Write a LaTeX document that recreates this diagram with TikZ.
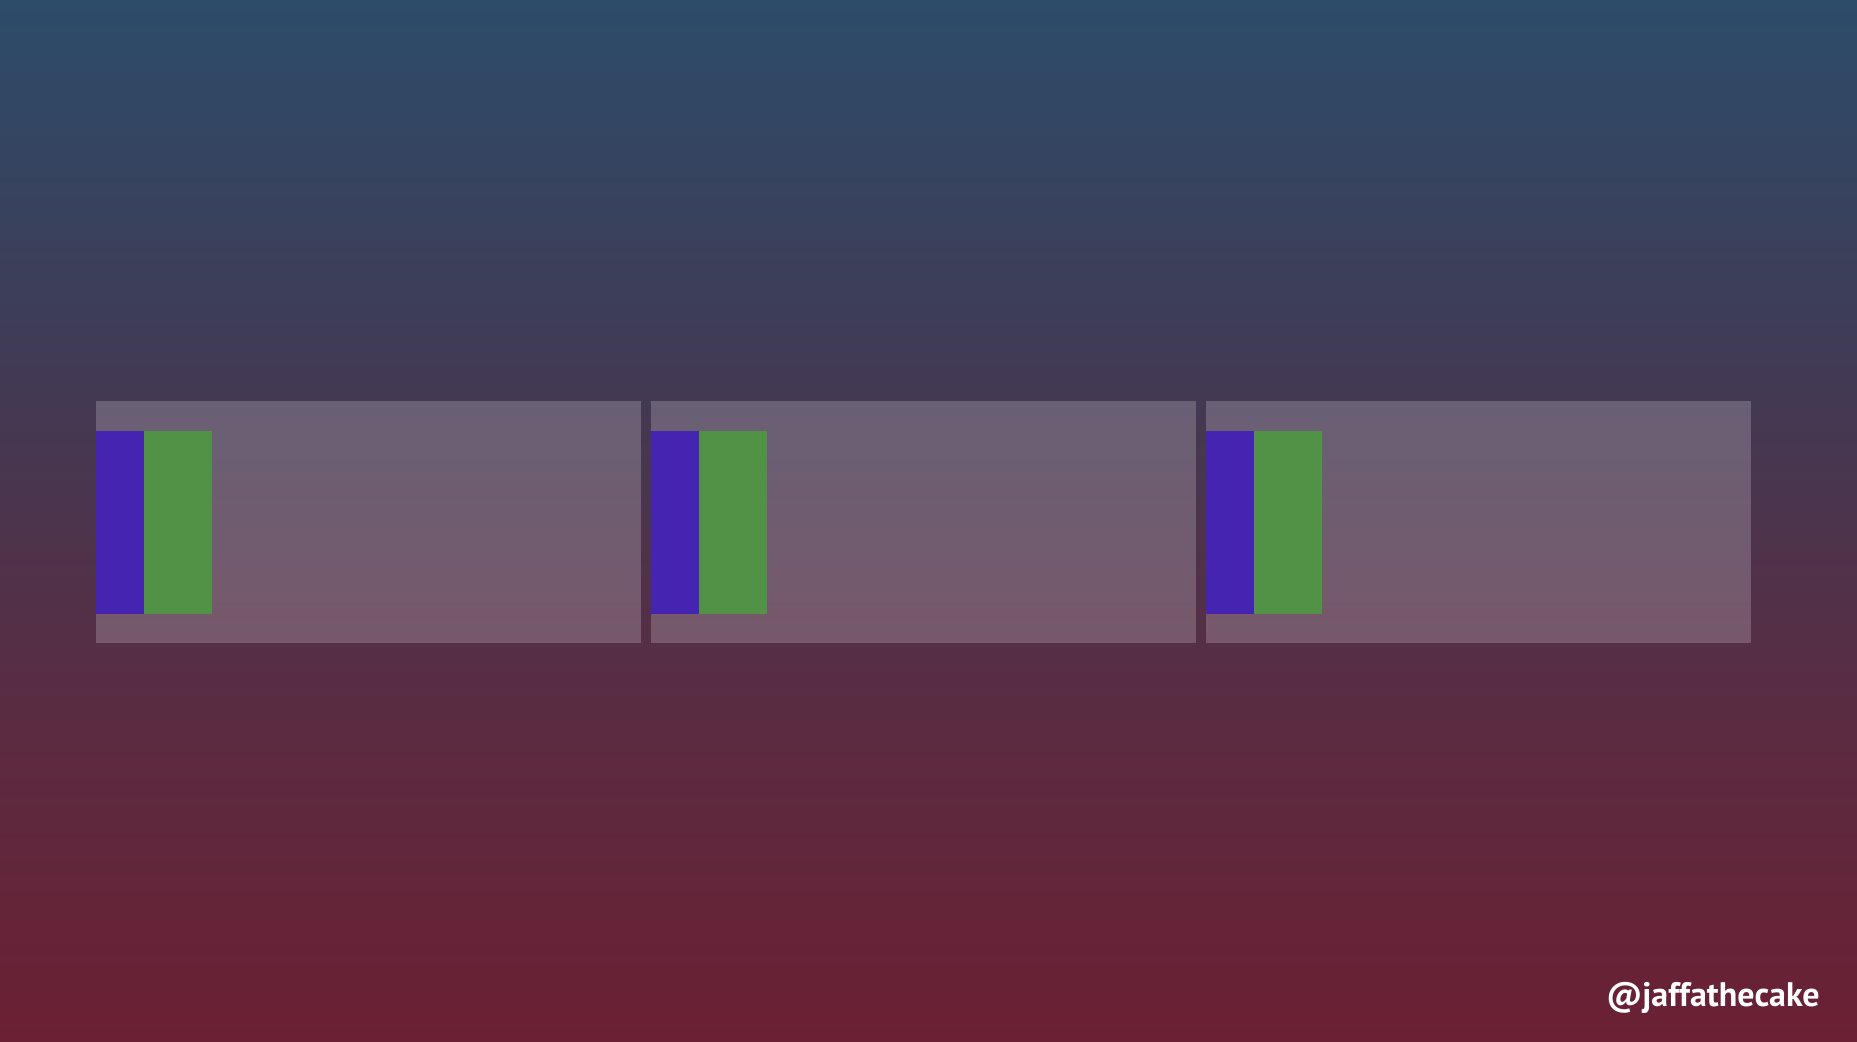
\documentclass[tikz,border=0pt]{standalone}
\usepackage{fontspec}
\setmainfont{PT Sans}
\usetikzlibrary{positioning,calc}
\definecolor{bgA}{HTML}{2c4c6a}
\definecolor{bgB}{HTML}{433953}
\definecolor{bgC}{HTML}{5a2c42}
\definecolor{bgD}{HTML}{6b2033}
\definecolor{cBlue}{HTML}{4424b0}
\definecolor{cGreen}{HTML}{529246}
\pgfdeclareverticalshading{backdrop}{100bp}{color(0bp)=(bgD); color(25bp)=(bgD);
  color(41bp)=(bgC); color(56bp)=(bgB); color(75bp)=(bgA); color(100bp)=(bgA)}
\tikzset{
  panel/.style={fill=white,fill opacity=0.2},
  blueband/.style={fill=cBlue},
  greenband/.style={fill=cGreen},
  handle/.style={text=white,font=\bfseries\fontsize{17}{21}\selectfont,inner sep=0pt},
}
\begin{document}
\begin{tikzpicture}[x=0.5pt,y=-0.5pt]
  \shade[shading=backdrop] (0,0) rectangle (1857,1042);
  \useasboundingbox (0,0) rectangle (1857,1042);
  % three frames
  \foreach \i/\x in {1/96,2/651,3/1206}{
    \fill[panel] (\x,401) rectangle ++(545,242);
    \coordinate (f\i) at (\x,431);
    \fill[blueband] (f\i) rectangle ++(48,183);
    \fill[greenband] ($(f\i)+(48,0)$) rectangle ++(68,183);
  }
  \node[handle,anchor=base east] (tag) at (1820,1006) {@jaffathecake};
\end{tikzpicture}
\end{document}
